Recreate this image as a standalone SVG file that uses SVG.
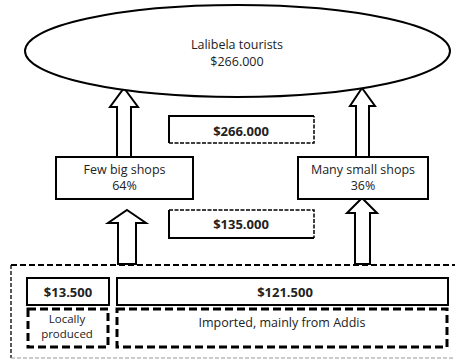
<svg xmlns="http://www.w3.org/2000/svg" width="455" height="360" viewBox="0 0 455 360">
<style>
.t{font-family:"Open Sans","Liberation Sans",sans-serif;font-size:12.5px;fill:#222;text-anchor:middle}
.b{font-weight:bold;font-size:13px}
.s{font-size:11.5px}
.box{fill:#fff;stroke:#000;stroke-width:2}
.arr{fill:#fff;stroke:#000;stroke-width:2;stroke-linejoin:miter}
.dash{fill:none;stroke:#000;stroke-width:3;stroke-dasharray:8 4}
.thin{fill:none;stroke:#000;stroke-width:1.5;stroke-dasharray:4 1.5}
</style>
<rect width="455" height="360" fill="#fff"/>
<g id="frame">
<path d="M11 265 H455" fill="none" stroke="#000" stroke-width="2" stroke-dasharray="6 3"/>
<path d="M11 265 V358" fill="none" stroke="#000" stroke-width="1.3" stroke-dasharray="4 2"/>
<path d="M11 358 H455" fill="none" stroke="#999" stroke-width="1" stroke-dasharray="4 2"/>
</g>
<g id="connectors">
<polygon class="arr" points="124,88 138,107 131,107 131,157 117,157 117,107 110,107"/>
<polygon class="arr" points="362,88 375,106 369,106 369,157 356,157 356,106 350,106"/>
<polygon class="arr" points="127,210 146,223 136,223 136,264 118,264 118,223 108,223"/>
<polygon class="arr" points="362,198 377,213 370,213 370,264 355,264 355,213 347,213"/>
</g>
<g id="tourists">
<ellipse cx="237.5" cy="51" rx="212.5" ry="46" fill="#fff" stroke="#000" stroke-width="2"/>
<text class="t" x="237" y="49">Lalibela tourists</text>
<text class="t" x="237" y="66">$266.000</text>
</g>
<g id="flow266">
<rect x="169" y="116" width="145" height="27" fill="#fff"/>
<path d="M169 143 V116 H314" fill="none" stroke="#000" stroke-width="2"/>
<path d="M169 143 H314 V116" class="thin"/>
<text class="t b" x="241" y="136">$266.000</text>
</g>
<g id="bigshops">
<rect class="box" x="56" y="157" width="137" height="42"/>
<text class="t" x="124.5" y="174">Few big shops</text>
<text class="t" x="124.5" y="190">64%</text>
</g>
<g id="smallshops">
<rect class="box" x="298" y="157" width="130" height="42"/>
<text class="t" x="363" y="174">Many small shops</text>
<text class="t" x="363" y="190">36%</text>
</g>
<g id="flow135">
<rect x="169" y="210" width="145" height="28" fill="#fff"/>
<path d="M169 210 V238 H314" fill="none" stroke="#000" stroke-width="2"/>
<path d="M169 210 H314 V238" class="thin"/>
<text class="t b" x="241" y="229">$135.000</text>
</g>
<g id="local-value">
<rect class="box" x="27" y="278" width="82" height="27"/>
<text class="t b" x="68" y="297">$13.500</text>
</g>
<g id="import-value">
<rect class="box" x="117" y="278" width="331" height="27"/>
<text class="t b" x="285" y="297">$121.500</text>
</g>
<g id="local">
<rect class="dash" x="28" y="309" width="80" height="38"/>
<text class="t s" x="67" y="323">Locally</text>
<text class="t s" x="67" y="338">produced</text>
</g>
<g id="imported">
<rect class="dash" x="117" y="309" width="330" height="38"/>
<text class="t" x="282" y="327">Imported, mainly from Addis</text>
</g>
</svg>
